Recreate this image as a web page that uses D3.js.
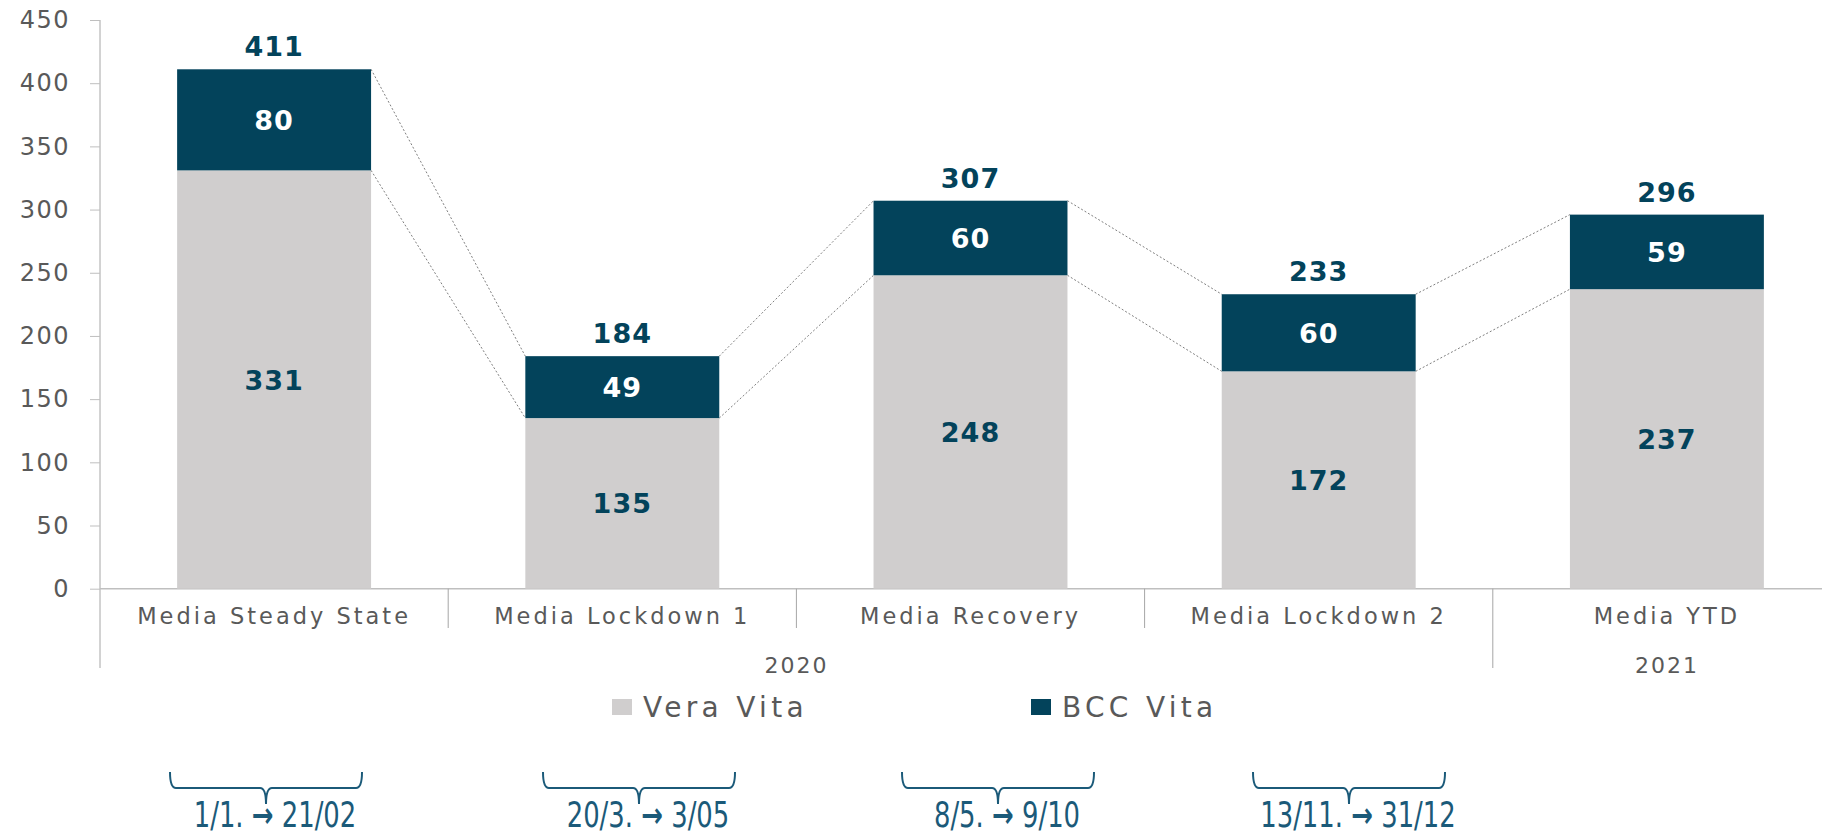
<!DOCTYPE html>
<html>
<head>
<meta charset="utf-8">
<script src="https://cdn.jsdelivr.net/npm/d3@7"></script>
<style>
  body { margin: 0; background: #fff; }
  svg { display: block; }
</style>
</head>
<body>
<script>
// chart data
const categories = ["Media Steady State", "Media Lockdown 1", "Media Recovery", "Media Lockdown 2", "Media YTD"];
const veraVita = [331, 135, 248, 172, 237];
const bccVita = [80, 49, 60, 60, 59];
const totals = [411, 184, 307, 233, 296];   // as labelled (source values were rounded)
const seriesNames = ["Vera Vita", "BCC Vita"];
const yearLabels = ["2020", "2021"];
const yearSpans = [[0, 3], [4, 4]];   // first / last category index of each year
const yTicks = [0, 50, 100, 150, 200, 250, 300, 350, 400, 450];
const periodLabels = ["1/1.", "20/3.", "8/5.", "13/11."];
const periodEnds = ["21/02", "3/05", "9/10", "31/12"];

const W = 1822, H = 837;
const grey = "#d0cece", navy = "#03435b", textGrey = "#595959", dateBlue = "#1b5a79";

const svg = d3.select("body").append("svg")
  .attr("width", W)
  .attr("height", H);

const y = d3.scaleLinear().domain([0, 450]).range([588.7, 20]);

// bands run a bit past the right edge, like the source
const x = d3.scaleBand()
  .domain(categories)
  .range([100, 1841])
  .paddingInner(0.443)
  .paddingOuter(0.2215);

const bw = x.bandwidth();
const step = x.step();
const bandLeft = i => 100 + i * step;

// y axis
const yAxis = svg.append("g")
  .attr("transform", "translate(100,0)")
  .call(d3.axisLeft(y).tickValues(yTicks).tickSize(10).tickPadding(20));
yAxis.select(".domain").attr("stroke", "#a6a6a6").attr("d", "M0,20V668");
yAxis.selectAll(".tick line").attr("stroke", "#bfbfbf");
yAxis.selectAll(".tick text")
  .attr("fill", textGrey)
  .attr("font-family", "DejaVu Sans")
  .attr("font-size", "24px")
  .attr("letter-spacing", "1.5px");

// baseline and category separators
svg.append("line")
  .attr("x1", 100).attr("x2", W)
  .attr("y1", y(0)).attr("y2", y(0))
  .attr("stroke", "#bfbfbf").attr("stroke-width", 1.5);

categories.forEach((c, i) => {
  if (i == 0) return;
  const isYearBreak = yearSpans.some(s => s[0] == i);
  svg.append("line")
    .attr("x1", bandLeft(i)).attr("x2", bandLeft(i))
    .attr("y1", y(0)).attr("y2", isYearBreak ? 668 : 628)
    .attr("stroke", "#a6a6a6").attr("stroke-width", 1);
});

svg.selectAll(".cat")
  .data(categories)
  .enter()
  .append("text")
    .attr("x", d => x(d) + bw / 2)
    .attr("y", 624)
    .attr("text-anchor", "middle")
    .attr("font-family", "DejaVu Sans")
    .attr("font-size", "22.5px")
    .attr("letter-spacing", "3px")
    .attr("fill", textGrey)
    .text(d => d);

svg.selectAll(".year")
  .data(yearLabels)
  .enter()
  .append("text")
    .attr("x", (d, i) => (bandLeft(yearSpans[i][0]) + bandLeft(yearSpans[i][1] + 1)) / 2)
    .attr("y", 673)
    .attr("text-anchor", "middle")
    .attr("font-family", "DejaVu Sans")
    .attr("font-size", "22px")
    .attr("letter-spacing", "2px")
    .attr("fill", textGrey)
    .text(d => d);

// dotted connectors between bars
for (let i = 0; i < categories.length - 1; i++) {
  const x1 = x(categories[i]) + bw, x2 = x(categories[i + 1]);
  [[totals[i], totals[i + 1]], [veraVita[i], veraVita[i + 1]]].forEach(p => {
    svg.append("line")
      .attr("x1", x1).attr("y1", y(p[0]))
      .attr("x2", x2).attr("y2", y(p[1]))
      .attr("stroke", "#7f7f7f")
      .attr("stroke-width", 1)
      .attr("stroke-dasharray", "2,2");
  });
}

// stacked bars
svg.selectAll(".vera")
  .data(veraVita)
  .enter()
  .append("rect")
    .attr("x", (d, i) => x(categories[i]))
    .attr("y", d => y(d))
    .attr("width", bw)
    .attr("height", d => y(0) - y(d))
    .attr("fill", grey);

svg.selectAll(".bcc")
  .data(bccVita)
  .enter()
  .append("rect")
    .attr("x", (d, i) => x(categories[i]))
    .attr("y", (d, i) => y(totals[i]))
    .attr("width", bw)
    .attr("height", (d, i) => y(veraVita[i]) - y(totals[i]))
    .attr("fill", navy);

// value labels
const boldLabel = (sel) => sel
  .attr("text-anchor", "middle")
  .attr("font-family", "DejaVu Sans")
  .attr("font-weight", "bold")
  .attr("font-size", "27px")
  .attr("letter-spacing", "1px");

svg.selectAll(".vlab")
  .data(veraVita)
  .enter()
  .append("text")
    .call(boldLabel)
    .attr("x", (d, i) => x(categories[i]) + bw / 2)
    .attr("y", d => y(d / 2) + 10)
    .attr("fill", navy)
    .text(d => d);

svg.selectAll(".blab")
  .data(bccVita)
  .enter()
  .append("text")
    .call(boldLabel)
    .attr("x", (d, i) => x(categories[i]) + bw / 2)
    .attr("y", (d, i) => y((veraVita[i] + totals[i]) / 2) + 10)
    .attr("fill", "#fff")
    .text(d => d);

svg.selectAll(".tlab")
  .data(totals)
  .enter()
  .append("text")
    .call(boldLabel)
    .attr("x", (d, i) => x(categories[i]) + bw / 2)
    .attr("y", d => y(d) - 13)
    .attr("fill", navy)
    .text(d => d);

// legend
const legendX = [612, 1031];
seriesNames.forEach((name, i) => {
  svg.append("rect")
    .attr("x", legendX[i]).attr("y", 699)
    .attr("width", 20).attr("height", 16)
    .attr("fill", i == 0 ? grey : navy);
  svg.append("text")
    .attr("x", legendX[i] + 31).attr("y", 717)
    .attr("font-family", "DejaVu Sans")
    .attr("font-size", "28px")
    .attr("letter-spacing", "4.3px")
    .attr("fill", textGrey)
    .text(name);
});

// period braces underneath
const braceCenters = [266, 639, 998, 1349];
const half = 96, braceTop = 772, braceMid = 788, braceTip = 804;
braceCenters.forEach((cx, i) => {
  const l = cx - half, r = cx + half;
  const path = `M${l},${braceTop} Q${l},${braceMid} ${l + 6},${braceMid} L${cx - 6},${braceMid} Q${cx},${braceMid} ${cx},${braceTip}`
    + ` M${cx},${braceTip} Q${cx},${braceMid} ${cx + 6},${braceMid} L${r - 6},${braceMid} Q${r},${braceMid} ${r},${braceTop}`;
  svg.append("path")
    .attr("d", path)
    .attr("fill", "none")
    .attr("stroke", dateBlue)
    .attr("stroke-width", 2);

  const t = svg.append("g")
    .attr("transform", `translate(${cx + 9},827) scale(0.74,1)`)
    .append("text")
      .attr("text-anchor", "middle")
      .attr("font-family", "DejaVu Sans")
      .attr("font-size", "35px")
      .attr("fill", dateBlue);
  t.append("tspan").text(periodLabels[i] + " ");
  t.append("tspan").attr("font-weight", "bold").text("→");
  t.append("tspan").text(" " + periodEnds[i]);
});
</script>
</body>
</html>
